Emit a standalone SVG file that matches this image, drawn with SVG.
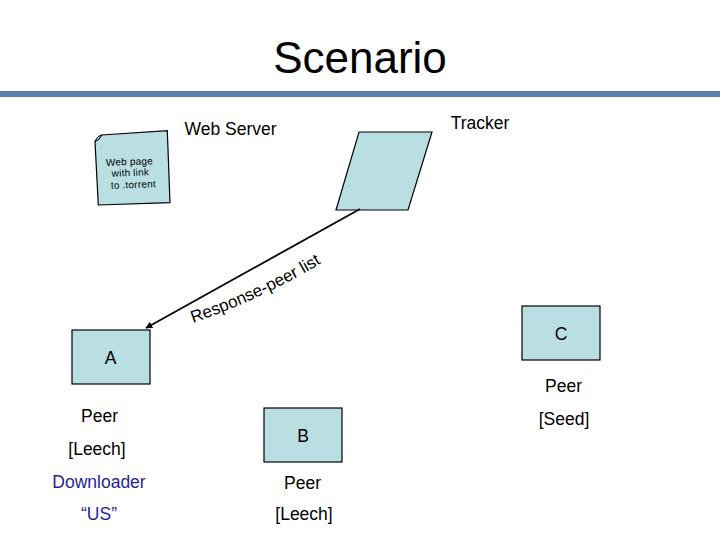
<svg xmlns="http://www.w3.org/2000/svg" width="720" height="540" viewBox="0 0 720 540">
<defs>
<style>
text{font-family:"Liberation Sans",Arial,sans-serif;fill:#000}
.lbl{font-size:17.5px;text-anchor:middle}
.box{fill:#b9dfe3;stroke:#000;stroke-width:1.2}
.blue{fill:#1f1f9c}
</style>
<marker id="ah" viewBox="0 0 10 10" refX="9" refY="5" markerWidth="7" markerHeight="7" orient="auto" markerUnits="userSpaceOnUse">
<path d="M0,0 L10,5 L0,10 z" fill="#000"/>
</marker>
<path id="arc" d="M193,323 Q265,298 330,258"/>
</defs>
<rect width="720" height="540" fill="#fff"/>
<g id="title">
<text x="360" y="73" font-size="44" text-anchor="middle">Scenario</text>
<rect x="0" y="91" width="720" height="6" fill="#5b7fae"/>
</g>
<g id="webserver">
<path d="M101.7,135 L167.3,130.7 L170,202.7 L98.3,205 L95,141.7 Z" class="box"/>
<path d="M95,141.7 Q97,136 101.7,135 Q100,140 95,141.7 Z" fill="#9fc8cd" stroke="#000" stroke-width="1"/>
<g transform="rotate(-2 132 176)" font-size="10" text-anchor="middle">
<text x="130" y="165" letter-spacing="0.2">Web page</text>
<text x="130.5" y="176" letter-spacing="0.2">with link</text>
<text x="133" y="188" letter-spacing="0.2">to .torrent</text>
</g>
<text class="lbl" x="230.5" y="135">Web Server</text>
</g>
<g id="tracker">
<path d="M359,132 L432,132 L408,210 L336,210 Z" class="box"/>
<text class="lbl" x="480" y="129">Tracker</text>
</g>
<g id="connectors">
<line x1="360" y1="209" x2="146" y2="328" stroke="#000" stroke-width="1.8" marker-end="url(#ah)"/>
<text font-size="17"><textPath href="#arc">Response-peer list</textPath></text>
</g>
<g id="peerA">
<rect x="72" y="330" width="78" height="54" class="box"/>
<text class="lbl" x="110.5" y="364">A</text>
<text class="lbl" x="99.5" y="422">Peer</text>
<text class="lbl" x="97" y="455">[Leech]</text>
<text class="lbl blue" x="99" y="488">Downloader</text>
<text class="lbl blue" x="99" y="520">“US”</text>
</g>
<g id="peerB">
<rect x="264" y="408" width="78" height="54" class="box"/>
<text class="lbl" x="303" y="441.5">B</text>
<text class="lbl" x="302.5" y="489">Peer</text>
<text class="lbl" x="304" y="520">[Leech]</text>
</g>
<g id="peerC">
<rect x="522" y="306" width="78" height="54" class="box"/>
<text class="lbl" x="561" y="340">C</text>
<text class="lbl" x="563.5" y="392">Peer</text>
<text class="lbl" x="564" y="425">[Seed]</text>
</g>
</svg>
